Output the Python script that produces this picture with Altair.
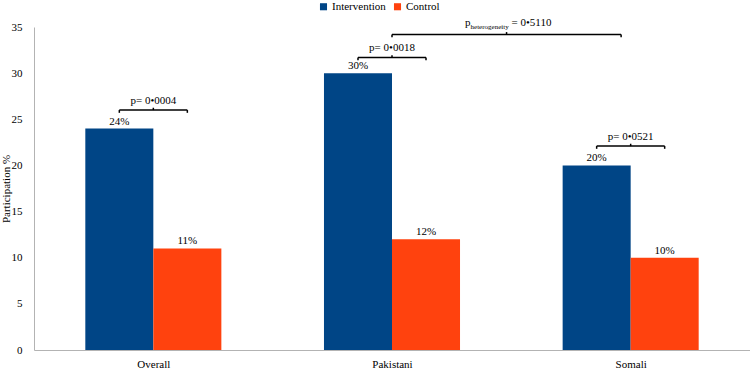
import altair as alt
import pandas as pd

# ---- data -------------------------------------------------------------
categories = ["Overall", "Pakistani", "Somali"]
groups = ["Intervention", "Control"]
intervention = [24, 30, 20]
control = [11, 12, 10]
p_labels = ["p= 0\u20220004", "p= 0\u20220018", "p= 0\u20220521"]
p_het_value = "= 0\u20225110"

# ---- layout constants (category units: each category spans 1) -------
BAR = 0.285                       # width of one bar
bracket_levels = [26.0, 31.7, 22.1]
het_span = (1.5, 2.46)            # Pakistani -> Somali comparison
het_level = 34.2
DROP = 0.3                        # bracket end ticks
RISE = 0.25                       # bracket centre tick

FONT = "'Times New Roman', 'Liberation Serif', serif"
BLUE = "#004586"
ORANGE = "#FF420E"

rows = []
for i, cat in enumerate(categories):
    for g, vals in zip(groups, [intervention, control]):
        rows.append({"category": cat, "idx": i, "group": g, "value": vals[i]})
bars_df = pd.DataFrame(rows)

# bracket segments (horizontal bar, two end ticks, centre tick)
segs = []
texts = []
def add_bracket(left, right, level):
    mid = (left + right) / 2
    segs.append({"x": left, "x2": right, "y": level, "y2": level})
    segs.append({"x": left, "x2": left, "y": level, "y2": level - DROP})
    segs.append({"x": right, "x2": right, "y": level, "y2": level - DROP})
    segs.append({"x": mid, "x2": mid, "y": level, "y2": level + RISE})
    return mid

for i, (lab, lvl) in enumerate(zip(p_labels, bracket_levels)):
    c = i + 0.5
    mid = add_bracket(c - BAR / 2, c + BAR / 2, lvl)
    texts.append({"x": mid, "y": lvl, "label": lab})
het_mid = add_bracket(het_span[0], het_span[1], het_level)
seg_df = pd.DataFrame(segs)
txt_df = pd.DataFrame(texts)
het_df = pd.DataFrame([{"x": het_mid, "y": het_level}])

xscale = alt.Scale(domain=[0, 3], nice=False, zero=False)
yscale = alt.Scale(domain=[0, 35], nice=False)

label_expr = "[" + ",".join(f"'{c}'" for c in categories) + "][floor(datum.value)]"

x_axis = alt.Axis(
    values=[0.5, 1.5, 2.5], labelExpr=label_expr, title=None, grid=False,
    ticks=False, tickSize=0, labelPadding=8, domainColor="#b3b3b3",
    labelFont=FONT, labelFontSize=11, labelColor="#000000",
)
y_axis = alt.Axis(
    values=list(range(0, 36, 5)), title="Participation %", grid=False,
    ticks=False, tickSize=0, labelPadding=12, domainColor="#b3b3b3",
    labelFont=FONT, labelFontSize=11, labelColor="#000000",
    titleFont=FONT, titleFontSize=11, titleFontWeight="normal",
    titleColor="#000000", titleX=-28, titleBaseline="middle",
)

base = alt.Chart(bars_df).transform_calculate(
    x0="datum.idx + 0.5 - (datum.group == 'Intervention' ? " + str(BAR) + " : 0)",
).transform_calculate(
    x1="datum.x0 + " + str(BAR),
    xc="datum.x0 + " + str(BAR / 2),
    pct="datum.value + '%'",
)

bars = base.mark_bar().encode(
    x=alt.X("x0:Q", scale=xscale, axis=x_axis),
    x2="x1:Q",
    y=alt.Y("value:Q", scale=yscale, axis=y_axis),
    y2=alt.datum(0),
    color=alt.Color(
        "group:N",
        scale=alt.Scale(domain=groups, range=[BLUE, ORANGE]),
        legend=alt.Legend(
            title=None, orient="none", legendX=284, legendY=-26,
            direction="horizontal", symbolType="square", symbolSize=50,
            symbolStrokeWidth=0, labelFont=FONT, labelFontSize=11,
            labelColor="#000000", columnPadding=6, labelOffset=3,
        ),
    ),
)

pct = base.mark_text(
    font=FONT, fontSize=11, baseline="alphabetic", dy=-4, color="#000000"
).encode(
    x=alt.X("xc:Q", scale=xscale),
    y=alt.Y("value:Q", scale=yscale),
    text="pct:N",
)

brackets = alt.Chart(seg_df).mark_rule(color="#000000", strokeWidth=1.5).encode(
    x=alt.X("x:Q", scale=xscale),
    x2="x2:Q",
    y=alt.Y("y:Q", scale=yscale),
    y2="y2:Q",
)

p_text = alt.Chart(txt_df).mark_text(
    font=FONT, fontSize=11, baseline="alphabetic", dy=-6, color="#000000"
).encode(
    x=alt.X("x:Q", scale=xscale),
    y=alt.Y("y:Q", scale=yscale),
    text="label:N",
)

het_base = alt.Chart(het_df).encode(
    x=alt.X("x:Q", scale=xscale),
    y=alt.Y("y:Q", scale=yscale),
)
het_p = het_base.mark_text(
    text="p", font=FONT, fontSize=11, align="right", baseline="alphabetic",
    dx=-36, dy=-8, color="#000000",
)
het_sub = het_base.mark_text(
    text="heterogeneity", font=FONT, fontSize=7, align="left",
    baseline="alphabetic", dx=-36, dy=-5, color="#000000",
)
het_val = het_base.mark_text(
    text=p_het_value, font=FONT, fontSize=11, align="left",
    baseline="alphabetic", dx=5, dy=-8, color="#000000",
)

chart = alt.layer(
    bars, pct, brackets, p_text, het_p, het_sub, het_val
).properties(
    width=716,
    height=323,
    autosize=alt.AutoSizeParams(type="none"),
    padding={"left": 34, "top": 27, "right": 0, "bottom": 18},
).configure(
    font=FONT,
).configure_view(stroke=None)

chart.save("out.html", embed_options={"renderer": "svg", "actions": False})
